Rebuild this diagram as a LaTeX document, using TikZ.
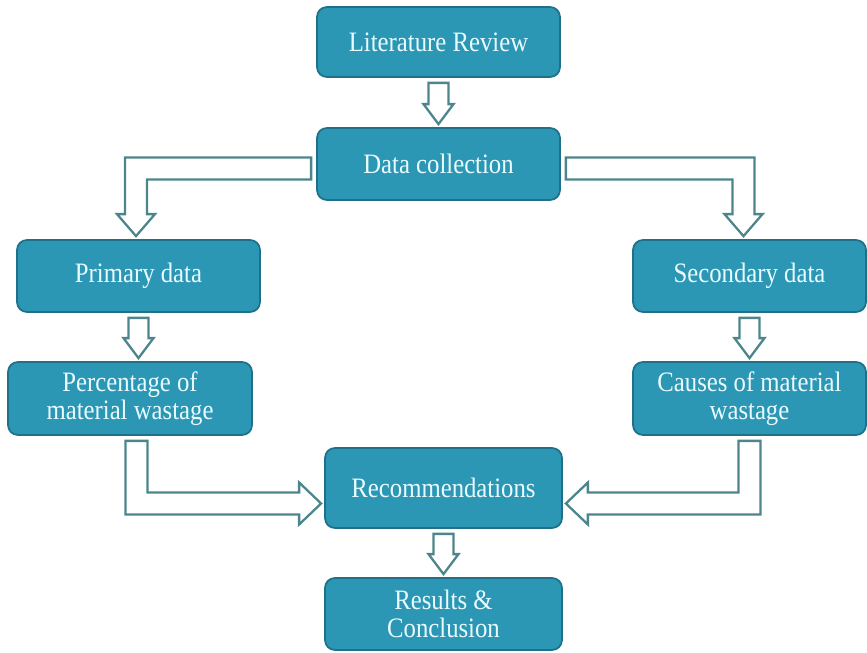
\documentclass[tikz,border=0pt]{standalone}
\usepackage{fontspec}
\setmainfont[FakeStretch=0.88]{Liberation Serif}
\usetikzlibrary{calc}
\definecolor{boxteal}{HTML}{2B97B5}
\definecolor{boxedge}{HTML}{1F7088}
\definecolor{arrowedge}{HTML}{4C868C}
\definecolor{boxtext}{HTML}{EAFBFF}

\begin{document}
\begin{tikzpicture}[
        stage/.style={draw=boxedge, line width=1pt, fill=boxteal, rounded corners=0.2cm,
                text=boxtext, font=\fontsize{16}{16}\selectfont, align=center, inner sep=0pt},
        hollow/.style={draw=arrowedge, line width=1.3pt, fill=white, line join=miter}]
    \useasboundingbox (0,0) rectangle (17.34,13.04);
    % Boxes
    \node[stage, minimum width=4.86cm, minimum height=1.4cm] (lit) at (8.77,12.2) {Literature Review};
    \node[stage, minimum width=4.86cm, minimum height=1.44cm] (data) at (8.77,9.76) {Data collection};
    \node[stage, minimum width=4.86cm, minimum height=1.44cm] (prim) at (2.77,7.52) {Primary data};
    \node[stage, minimum width=4.66cm, minimum height=1.44cm] (sec) at (14.99,7.52) {Secondary data};
    \node[stage, minimum width=4.88cm, minimum height=1.46cm] (perc) at (2.6,5.07) {Percentage of\\material wastage};
    \node[stage, minimum width=4.66cm, minimum height=1.46cm] (cause) at (14.99,5.07) {Causes of material\\wastage};
    \node[stage, minimum width=4.74cm, minimum height=1.6cm] (rec) at (8.87,3.28) {Recommendations};
    \node[stage, minimum width=4.74cm, minimum height=1.44cm] (res) at (8.87,0.76) {Results \&\\Conclusion};
    % Straight arrows
    \foreach \a/\b in {lit/data, prim/perc, sec/cause, rec/res} {
            \draw[hollow] let \p1=(\a.south), \p2=(\b.north) in
                (\x1-0.2cm,\y1-0.1cm) -- (\x1+0.2cm,\y1-0.1cm) -- (\x1+0.2cm,\y2+0.46cm)
                -- (\x1+0.3cm,\y2+0.46cm) -- (\x1,\y2+0.06cm) -- (\x1-0.3cm,\y2+0.46cm)
                -- (\x1-0.2cm,\y2+0.46cm) -- cycle;
        }
    % Elbow arrows out of data collection
    \draw[hollow] let \p1=($(data.west)+(-0.1,-0.09)$), \p2=($(prim.north)+(-0.05,0)$) in
        (\x1,\y1+0.22cm) -- (\x2-0.22cm,\y1+0.22cm) -- (\x2-0.22cm,\y2+0.5cm) -- (\x2-0.38cm,\y2+0.5cm)
        -- (\x2,\y2+0.06cm) -- (\x2+0.38cm,\y2+0.5cm) -- (\x2+0.22cm,\y2+0.5cm)
        -- (\x2+0.22cm,\y1-0.22cm) -- (\x1,\y1-0.22cm) -- cycle;
    \draw[hollow] let \p1=($(data.east)+(0.1,-0.09)$), \p2=($(sec.north)+(-0.12,0)$) in
        (\x1,\y1+0.22cm) -- (\x2+0.22cm,\y1+0.22cm) -- (\x2+0.22cm,\y2+0.5cm) -- (\x2+0.38cm,\y2+0.5cm)
        -- (\x2,\y2+0.06cm) -- (\x2-0.38cm,\y2+0.5cm) -- (\x2-0.22cm,\y2+0.5cm)
        -- (\x2-0.22cm,\y1-0.22cm) -- (\x1,\y1-0.22cm) -- cycle;
    % Elbow arrows into recommendations
    \draw[hollow] let \p1=($(perc.south)+(0.13,-0.1)$), \p2=($(rec.west)+(-0.06,-0.31)$) in
        (\x1-0.22cm,\y1) -- (\x1-0.22cm,\y2-0.22cm) -- (\x2-0.44cm,\y2-0.22cm) -- (\x2-0.44cm,\y2-0.42cm)
        -- (\x2,\y2) -- (\x2-0.44cm,\y2+0.42cm) -- (\x2-0.44cm,\y2+0.22cm)
        -- (\x1+0.22cm,\y2+0.22cm) -- (\x1+0.22cm,\y1) -- cycle;
    \draw[hollow] let \p1=($(cause.south)+(0,-0.1)$), \p2=($(rec.east)+(0.06,-0.31)$) in
        (\x1+0.22cm,\y1) -- (\x1+0.22cm,\y2-0.22cm) -- (\x2+0.44cm,\y2-0.22cm) -- (\x2+0.44cm,\y2-0.42cm)
        -- (\x2,\y2) -- (\x2+0.44cm,\y2+0.42cm) -- (\x2+0.44cm,\y2+0.22cm)
        -- (\x1-0.22cm,\y2+0.22cm) -- (\x1-0.22cm,\y1) -- cycle;
\end{tikzpicture}
\end{document}
